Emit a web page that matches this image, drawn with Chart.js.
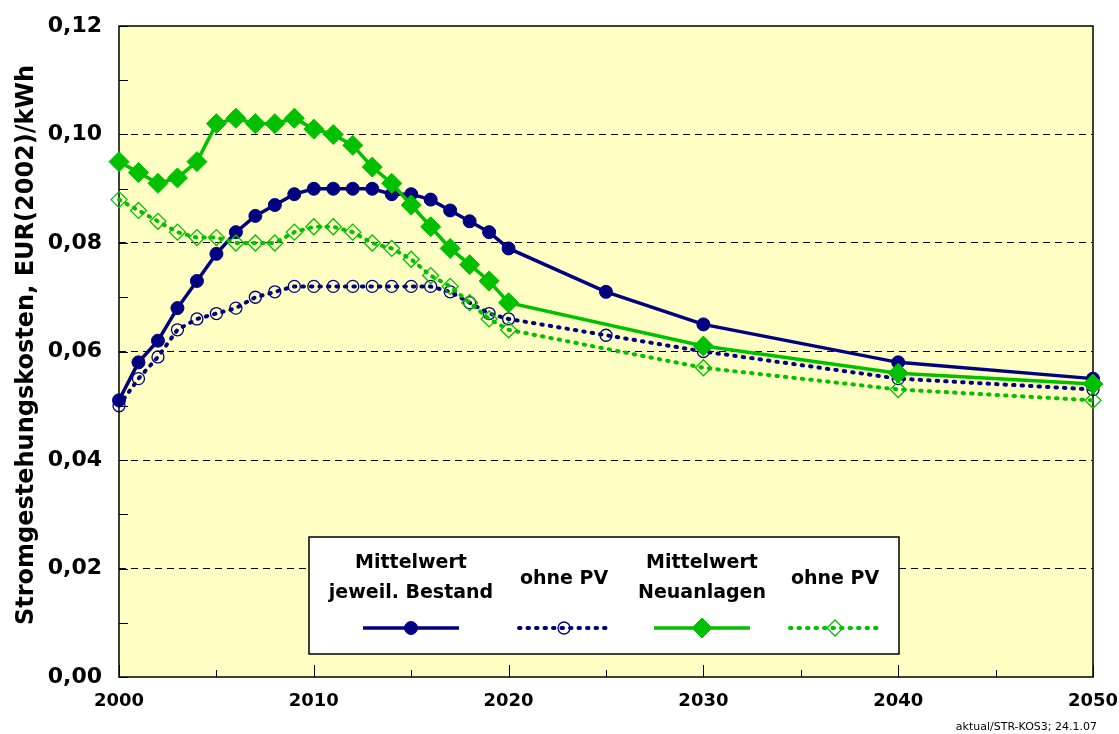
<!DOCTYPE html>
<html>
<head>
<meta charset="utf-8">
<title>Stromgestehungskosten</title>
<script src="https://cdn.jsdelivr.net/npm/chart.js@4.4.0/dist/chart.umd.min.js"></script>
<style>
  html, body { margin: 0; padding: 0; background: #fff; }
  #wrap { width: 1119px; height: 734px; }
</style>
</head>
<body>
<div id="wrap"><canvas id="chart" width="1119" height="734"></canvas></div>
<script>
// Jahre (bis 2020 jährlich, danach Stützjahre)
const years = [2000, 2001, 2002, 2003, 2004, 2005, 2006, 2007, 2008, 2009, 2010,
               2011, 2012, 2013, 2014, 2015, 2016, 2017, 2018, 2019, 2020,
               2025, 2030, 2040, 2050];

// Mittelwert jeweil. Bestand
const bestand = [0.051, 0.058, 0.062, 0.068, 0.073, 0.078, 0.082, 0.085, 0.087, 0.089, 0.090,
                 0.090, 0.090, 0.090, 0.089, 0.089, 0.088, 0.086, 0.084, 0.082, 0.079,
                 0.071, 0.065, 0.058, 0.055];
// Bestand ohne PV
const bestandOhnePV = [0.050, 0.055, 0.059, 0.064, 0.066, 0.067, 0.068, 0.070, 0.071, 0.072, 0.072,
                       0.072, 0.072, 0.072, 0.072, 0.072, 0.072, 0.071, 0.069, 0.067, 0.066,
                       0.063, 0.060, 0.055, 0.053];
// Mittelwert Neuanlagen (kein Wert 2025)
const neuanlagen = [0.095, 0.093, 0.091, 0.092, 0.095, 0.102, 0.103, 0.102, 0.102, 0.103, 0.101,
                    0.100, 0.098, 0.094, 0.091, 0.087, 0.083, 0.079, 0.076, 0.073, 0.069,
                    null, 0.061, 0.056, 0.054];
// Neuanlagen ohne PV
const neuanlagenOhnePV = [0.088, 0.086, 0.084, 0.082, 0.081, 0.081, 0.080, 0.080, 0.080, 0.082, 0.083,
                          0.083, 0.082, 0.080, 0.079, 0.077, 0.074, 0.072, 0.069, 0.066, 0.064,
                          null, 0.057, 0.053, 0.051];

const yMin = 0, yMax = 0.12, yStep = 0.02;
const xMin = 2000, xMax = 2050, xStep = 10;

const legendLabels = [
  ['Mittelwert', 'jeweil. Bestand'],
  ['ohne PV'],
  ['Mittelwert', 'Neuanlagen'],
  ['ohne PV']
];
const yTitle = 'Stromgestehungskosten, EUR(2002)/kWh';
const footnote = 'aktual/STR-KOS3; 24.1.07';

const NAVY = '#000080';
const GREEN = '#00c000';
const PLOT_BG = '#ffffc4';
const FONT = '"DejaVu Sans", "Liberation Sans", Arial, sans-serif';

const toPoints = vals => years.map((x, i) => ({ x: x, y: vals[i] }));

// Hintergrund, Rahmen, Teilstriche, Legende, Achsentitel
const decorPlugin = {
  id: 'decor',
  beforeDraw(chart) {
    const { ctx, chartArea: a } = chart;
    ctx.save();
    ctx.fillStyle = '#fff';
    ctx.fillRect(0, 0, chart.width, chart.height);
    ctx.fillStyle = PLOT_BG;
    ctx.fillRect(a.left, a.top, a.right - a.left, a.bottom - a.top);
    ctx.restore();
  },
  beforeDatasetsDraw(chart) {
    const { ctx, chartArea: a, scales } = chart;
    ctx.save();
    ctx.strokeStyle = '#000';
    ctx.lineWidth = 1.5;
    ctx.strokeRect(a.left, a.top, a.right - a.left, a.bottom - a.top);
    ctx.lineWidth = 1;
    ctx.beginPath();
    for (let v = 0; v <= 12; v++) {
      const y = Math.round(scales.y.getPixelForValue(v / 100)) + 0.5;
      ctx.moveTo(a.left, y);
      ctx.lineTo(a.left + 9, y);
    }
    for (let yr = xMin; yr <= xMax; yr += 5) {
      const x = Math.round(scales.x.getPixelForValue(yr)) + 0.5;
      const len = (yr % 10 === 0) ? 12 : 7;
      ctx.moveTo(x, a.bottom);
      ctx.lineTo(x, a.bottom - len);
    }
    ctx.stroke();
    ctx.restore();
  },
  afterDraw(chart) {
    const ctx = chart.ctx;
    ctx.save();

    // Achsentitel
    ctx.translate(33, 345);
    ctx.rotate(-Math.PI / 2);
    ctx.font = 'bold 24px ' + FONT;
    ctx.fillStyle = '#000';
    ctx.textAlign = 'center';
    ctx.textBaseline = 'alphabetic';
    ctx.fillText(yTitle, 0, 0);
    ctx.setTransform(1, 0, 0, 1, 0, 0);

    // Legende
    ctx.fillStyle = '#fff';
    ctx.fillRect(309, 537, 590, 117);
    ctx.strokeStyle = '#000';
    ctx.lineWidth = 1.5;
    ctx.strokeRect(309, 537, 590, 117);

    const centers = [411, 564, 702, 835];
    const halfLen = [48, 45, 48, 45];
    ctx.font = 'bold 19px ' + FONT;
    ctx.textAlign = 'center';
    ctx.textBaseline = 'middle';
    chart.data.datasets.forEach((ds, i) => {
      const cx = centers[i];
      const lines = legendLabels[i];
      ctx.fillStyle = '#000';
      if (lines.length === 2) {
        ctx.fillText(lines[0], cx, 563);
        ctx.fillText(lines[1], cx, 593);
      } else {
        ctx.fillText(lines[0], cx, 579);
      }
      const ly = 628;
      ctx.save();
      ctx.strokeStyle = ds.borderColor;
      ctx.lineWidth = ds.borderWidth;
      ctx.lineCap = ds.borderCapStyle || 'butt';
      ctx.setLineDash(ds.borderDash || []);
      ctx.beginPath();
      ctx.moveTo(cx - halfLen[i], ly);
      ctx.lineTo(cx + halfLen[i], ly);
      ctx.stroke();
      ctx.restore();
      ctx.save();
      ctx.fillStyle = ds.pointBackgroundColor;
      ctx.strokeStyle = ds.pointBorderColor;
      ctx.lineWidth = ds.pointBorderWidth;
      Chart.helpers.drawPoint(ctx, {
        pointStyle: ds.pointStyle, rotation: 0,
        radius: ds.pointRadius, borderWidth: ds.pointBorderWidth
      }, cx, ly);
      ctx.restore();
    });

    // Quelle
    ctx.font = '11px ' + FONT;
    ctx.fillStyle = '#000';
    ctx.textAlign = 'right';
    ctx.textBaseline = 'middle';
    ctx.fillText(footnote, 1097, 727);
    ctx.restore();
  }
};

new Chart(document.getElementById('chart'), {
  type: 'line',
  data: {
    datasets: [
      {
        label: 'Mittelwert jeweil. Bestand',
        data: toPoints(bestand),
        borderColor: NAVY, borderWidth: 3.5,
        pointStyle: 'circle', pointRadius: 6.5,
        pointBackgroundColor: NAVY, pointBorderColor: NAVY, pointBorderWidth: 1,
        order: 4
      },
      {
        label: 'ohne PV',
        data: toPoints(bestandOhnePV),
        borderColor: NAVY, borderWidth: 4,
        borderDash: [1.5, 7], borderCapStyle: 'round',
        pointStyle: 'circle', pointRadius: 6,
        pointBackgroundColor: 'rgba(0,0,0,0)', pointBorderColor: NAVY, pointBorderWidth: 1.3,
        order: 3
      },
      {
        label: 'Mittelwert Neuanlagen',
        data: toPoints(neuanlagen),
        borderColor: GREEN, borderWidth: 3.5,
        pointStyle: 'rectRot', pointRadius: 10,
        pointBackgroundColor: GREEN, pointBorderColor: GREEN, pointBorderWidth: 1,
        order: 2
      },
      {
        label: 'ohne PV',
        data: toPoints(neuanlagenOhnePV),
        borderColor: GREEN, borderWidth: 4,
        borderDash: [1.5, 7], borderCapStyle: 'round',
        pointStyle: 'rectRot', pointRadius: 8,
        pointBackgroundColor: 'rgba(0,0,0,0)', pointBorderColor: GREEN, pointBorderWidth: 1.3,
        order: 1
      }
    ]
  },
  options: {
    responsive: false,
    animation: false,
    events: [],
    spanGaps: true,
    elements: { line: { tension: 0 } },
    datasets: { line: { clip: false } },
    layout: { padding: { left: 0, right: 26, top: 26, bottom: 0 } },
    plugins: {
      legend: { display: false },
      tooltip: { enabled: false }
    },
    scales: {
      x: {
        type: 'linear',
        min: xMin, max: xMax,
        afterFit: s => { s.height = 57; s.paddingLeft = 0; s.paddingRight = 0; },
        grid: { display: false },
        border: { display: false },
        ticks: {
          stepSize: xStep,
          autoSkip: false,
          maxRotation: 0,
          padding: 6,
          color: '#000',
          font: { family: FONT, size: 18, weight: 'bold' },
          callback: v => String(v)
        }
      },
      y: {
        min: yMin, max: yMax,
        afterFit: s => { s.width = 119; s.paddingTop = 0; s.paddingBottom = 0; },
        grid: {
          drawTicks: false,
          lineWidth: 1,
          color: c => {
            const v = c.tick ? c.tick.value : 0;
            return (Math.abs(v - yMin) < 1e-9 || Math.abs(v - yMax) < 1e-9) ? 'rgba(0,0,0,0)' : '#000';
          }
        },
        border: { display: false, dash: [7, 5] },
        ticks: {
          stepSize: yStep,
          padding: 17,
          color: '#000',
          font: { family: FONT, size: 22, weight: 'bold' },
          callback: v => v.toFixed(2).replace('.', ',')
        }
      }
    }
  },
  plugins: [decorPlugin]
});
</script>
</body>
</html>
